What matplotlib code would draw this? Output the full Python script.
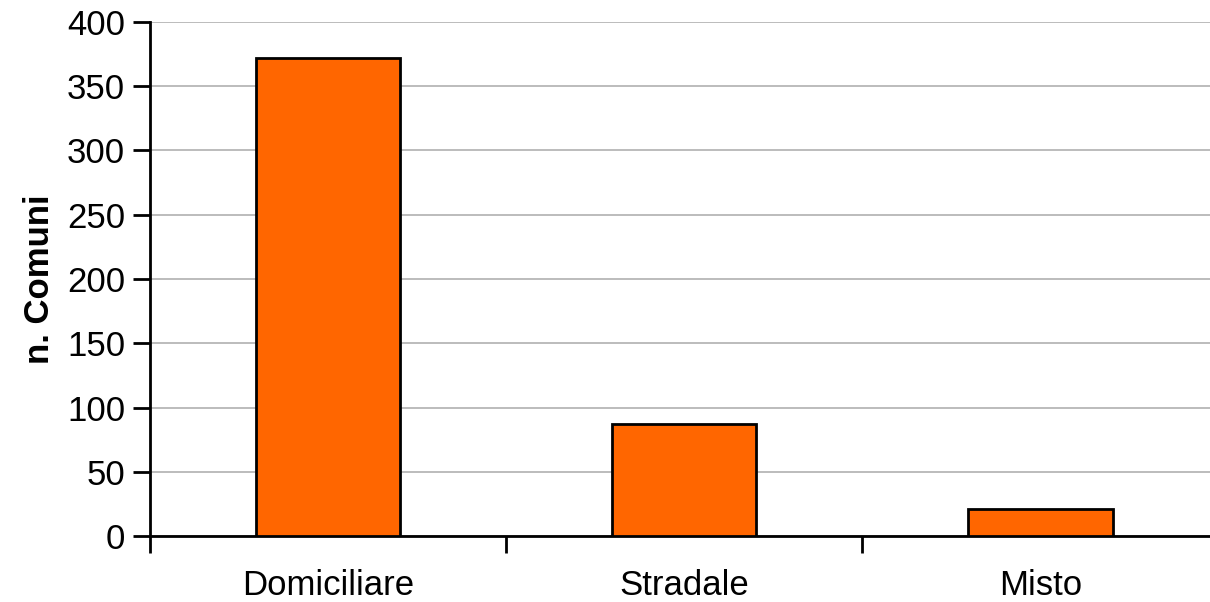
import matplotlib.pyplot as plt

# dati
categorie = ["Domiciliare", "Stradale", "Misto"]
n_comuni = [372, 87, 21]
y_ticks = [0, 50, 100, 150, 200, 250, 300, 350, 400]

plt.rcParams['font.family'] = ['Liberation Sans', 'DejaVu Sans']

fig = plt.figure(figsize=(12.1, 6.02), dpi=100)
ax = fig.add_axes([0.124, 0.1096, 0.883, 0.8539])

x = range(len(categorie))
ax.bar(x, n_comuni, width=0.405, color="#FF6600", edgecolor="black", linewidth=2, zorder=3)

ax.set_xlim(-0.5, len(categorie) - 0.5)
ax.set_ylim(0, 400)
ax.set_yticks(y_ticks)
ax.set_xticks(list(x), categorie)
ax.set_xticks([i - 0.5 for i in range(len(categorie) + 1)], minor=True)

ax.tick_params(axis="x", which="major", length=0, pad=24, labelsize=25)
ax.tick_params(axis="x", which="minor", length=12, width=2, direction="out")
ax.tick_params(axis="y", length=12, width=2, labelsize=25, pad=6)

ax.yaxis.grid(True, color="#B0B0B0", linewidth=1.2, zorder=0)
ax.set_axisbelow(True)

for s in ["top", "right"]:
    ax.spines[s].set_visible(False)
ax.spines["left"].set_linewidth(2)
ax.spines["bottom"].set_linewidth(2)

ax.set_ylabel("n. Comuni", fontsize=25, fontweight="bold", labelpad=8)

fig.savefig("out.png", dpi=100)
